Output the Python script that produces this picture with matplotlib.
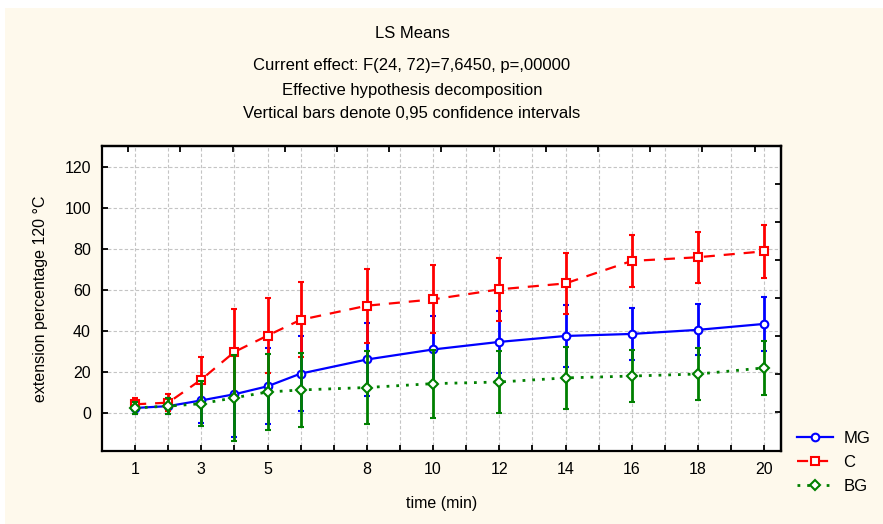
import matplotlib
matplotlib.use("Agg")
import matplotlib.pyplot as plt
from matplotlib.patches import Rectangle
import numpy as np

plt.rcParams['font.family'] = ['Liberation Sans', 'DejaVu Sans']

# ---- data ----
time = [1, 2, 3, 4, 5, 6, 8, 10, 12, 14, 16, 18, 20]
mg = [2.3, 3.2, 6.0, 9.0, 12.9, 19.1, 26.0, 30.9, 34.6, 37.5, 38.5, 40.5, 43.4]
c = [4.1, 4.9, 16.2, 29.7, 37.7, 45.4, 52.3, 55.4, 60.3, 63.2, 74.2, 76.0, 78.9]
bg = [2.3, 3.2, 4.4, 7.3, 10.1, 11.1, 12.3, 14.2, 15.0, 17.0, 17.9, 18.9, 21.9]
ci_half = [3.0, 4.0, 11.0, 21.0, 18.5, 18.3, 18.0, 16.6, 15.3, 15.1, 12.7, 12.5, 13.1]

xtick_labels = [1, 3, 5, 8, 10, 12, 14, 16, 18, 20]
yticks = [0, 20, 40, 60, 80, 100, 120]

title_lines = ["LS Means",
               "Current effect: F(24, 72)=7,6450, p=,00000",
               "Effective hypothesis decomposition",
               "Vertical bars denote 0,95 confidence intervals"]

W, H = 883, 524
fig = plt.figure(figsize=(W / 100, H / 100), dpi=100, facecolor='white')
fig.patches.append(Rectangle((5 / W, 0), 1 - 5 / W, 1 - 8 / H, transform=fig.transFigure,
                             facecolor='#FEF9EC', edgecolor='none', zorder=-10))

left, right, top, bottom = 102 / W, 780.7 / W, 1 - 146 / H, 1 - 450.5 / H
ax = fig.add_axes([left, bottom, right - left, top - bottom])
ax.set_facecolor('white')

xmin, xmax = 0.0, 20.5
ymin, ymax = -18.5, 130.4
ax.set_xlim(xmin, xmax)
ax.set_ylim(ymin, ymax)

# grid
ax.set_xticks(range(1, 21))
ax.set_xticklabels([str(t) if t in xtick_labels else '' for t in range(1, 21)])
ax.set_yticks(yticks)
ax.grid(True, color='#C4C4C4', linestyle=(0, (3, 2)), linewidth=0.8)
ax.set_axisbelow(True)

for s in ax.spines.values():
    s.set_linewidth(1.6)
ax.tick_params(direction='in', length=4, width=1.3, labelsize=11.5, pad=8)

# secondary ticks (top/right, unlabeled)
sx = ax.secondary_xaxis('top')
sx.set_xticks([(k + 0.5) * (xmax - xmin) / 13 for k in range(13)])
sx.set_xticklabels([])
sx.tick_params(direction='in', length=4, width=1.3)
sy = ax.secondary_yaxis('right')
sy.set_yticks([ymin + k * (ymax - ymin) / 8 for k in range(1, 8)])
sy.set_yticklabels([])
sy.tick_params(direction='in', length=4, width=1.3)
sx.spines['top'].set_linewidth(1.6)
sy.spines['right'].set_linewidth(1.6)

common = dict(markersize=5.5, markerfacecolor='white', markeredgewidth=1.5,
              elinewidth=2.0, capsize=2, capthick=1.5, linewidth=1.6)
ax.errorbar(time, mg, yerr=ci_half, color='#0000FF', marker='o', linestyle='-',
            label='MG', zorder=3, **common)
ax.errorbar(time, c, yerr=ci_half, color='#FF0000', marker='s', linestyle=(0, (5, 4)),
            label='C', zorder=4, **common)
ax.errorbar(time, bg, yerr=ci_half, color='#008000', marker='D', linestyle=(0, (1, 2.5)),
            label='BG', zorder=5, markersize=5, markerfacecolor='white', markeredgewidth=1.5,
            elinewidth=2.0, capsize=2, capthick=1.5, linewidth=2.0)

ax.set_xlabel('time (min)', fontsize=11.5, labelpad=14)
ax.set_ylabel('extension percentage 120 °C', fontsize=11.5, labelpad=12)

ys = [33, 66, 90, 114]
for txt, yy in zip(title_lines, ys):
    fig.text(412 / W, 1 - yy / H, txt, ha='center', va='center', fontsize=12)

# legend
handles, labels = ax.get_legend_handles_labels()
handles = [h[0] for h in handles]
leg = fig.legend(handles, labels, loc='upper left', bbox_to_anchor=(790 / W, 1 - 424 / H),
                 frameon=False, fontsize=12, handlelength=2.2, labelspacing=0.55,
                 handletextpad=0.6, borderaxespad=0)

fig.savefig('out.png', dpi=100, facecolor=fig.get_facecolor())
